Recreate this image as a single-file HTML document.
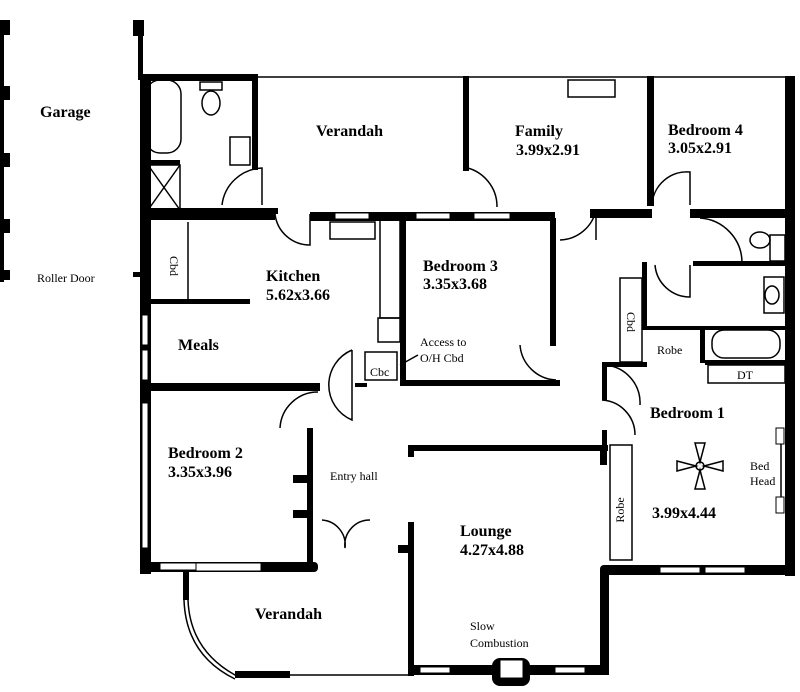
<!DOCTYPE html>
<html><head><meta charset="utf-8"><style>
html,body{margin:0;padding:0;background:#fff;}
svg{display:block}
.t{font-family:"Liberation Serif",serif;font-weight:bold;font-size:16px;fill:#000}
.s{font-family:"Liberation Serif",serif;font-size:12px;fill:#000}
</style></head><body>
<svg width="800" height="692" viewBox="0 0 800 692" xmlns="http://www.w3.org/2000/svg">
<g fill="#000" stroke="none">
<rect x="0" y="20" width="4" height="262"/>
<rect x="0" y="20" width="10" height="15"/><rect x="0" y="86" width="10" height="14"/>
<rect x="0" y="153" width="10" height="14"/><rect x="0" y="219" width="10" height="14"/><rect x="0" y="270" width="10" height="10"/>
<rect x="133" y="20" width="11" height="16"/><rect x="138" y="20" width="5" height="60"/>
<rect x="133" y="272" width="10" height="5"/>
<rect x="140" y="74" width="118" height="7"/>
<rect x="140" y="74" width="11" height="500"/>
<rect x="252" y="74" width="6" height="96"/>
<rect x="463" y="76" width="6" height="95"/>
<rect x="647" y="76" width="7" height="130"/>
<rect x="785" y="76" width="10" height="500"/>
<rect x="140" y="208" width="135" height="12"/>
<rect x="270" y="208" width="8" height="6"/>
<rect x="310" y="212" width="245" height="9"/>
<rect x="590" y="209" width="62" height="9"/>
<rect x="690" y="209" width="105" height="9"/>
<rect x="145" y="160" width="35" height="5"/>
<rect x="400" y="218" width="6" height="168"/>
<rect x="550" y="218" width="6" height="128"/>
<rect x="400" y="380" width="160" height="6"/>
<rect x="148" y="299" width="102" height="5"/>
<rect x="140" y="383" width="180" height="8"/>
<rect x="355" y="383" width="12" height="4"/>
<rect x="307" y="428" width="6" height="140"/>
<rect x="293" y="475" width="14" height="8"/><rect x="293" y="510" width="14" height="8"/>
<rect x="140" y="562" width="178" height="10" rx="4"/>
<rect x="183" y="570" width="6" height="30"/>
<rect x="408" y="445" width="200" height="6"/>
<rect x="408" y="445" width="6" height="12"/>
<rect x="408" y="522" width="6" height="154"/>
<rect x="398" y="545" width="14" height="8"/>
<rect x="408" y="665" width="200" height="10" rx="4"/>
<rect x="600" y="445" width="7" height="20"/>
<rect x="600" y="570" width="9" height="105"/>
<rect x="492" y="658" width="38" height="28" rx="8"/>
<rect x="642" y="262" width="5" height="68"/>
<rect x="693" y="261" width="95" height="5"/>
<rect x="645" y="326" width="140" height="4"/>
<rect x="602" y="362" width="45" height="5"/>
<rect x="602" y="362" width="5" height="38"/>
<rect x="602" y="430" width="5" height="20"/>
<rect x="705" y="360" width="80" height="5"/>
<rect x="700" y="328" width="5" height="35"/>
<rect x="600" y="565" width="195" height="10" rx="4"/>
<rect x="235" y="671" width="55" height="7"/>
</g>
<g fill="#fff" stroke="#000" stroke-width="1">
<rect x="160" y="563" width="40" height="7"/>
<rect x="196" y="563" width="65" height="8"/>
<rect x="142" y="403" width="6" height="145"/>
<rect x="142" y="315" width="6" height="30"/>
<rect x="142" y="350" width="6" height="30"/>
<rect x="335" y="213" width="34" height="6"/>
<rect x="416" y="213" width="34" height="6"/>
<rect x="474" y="213" width="36" height="6"/>
<rect x="660" y="567" width="40" height="6"/><rect x="705" y="567" width="40" height="6"/>
<rect x="420" y="667" width="30" height="6"/><rect x="555" y="667" width="30" height="6"/>
<rect x="500" y="660" width="23" height="18"/>
<rect x="776" y="428" width="8" height="16"/><rect x="776" y="497" width="8" height="16"/>
</g>
<g fill="none" stroke="#000" stroke-width="1.5">
<line x1="258" y1="77" x2="795" y2="77"/>
<line x1="781" y1="444" x2="781" y2="497"/>
<rect x="146" y="80" width="35" height="73" rx="14"/>
<rect x="148" y="165" width="32" height="45"/>
<line x1="148" y1="165" x2="180" y2="210"/><line x1="180" y1="165" x2="148" y2="210"/>
<rect x="200" y="82" width="22" height="8"/><ellipse cx="211" cy="103" rx="9" ry="12"/>
<rect x="230" y="137" width="20" height="28"/>
<line x1="188" y1="222" x2="188" y2="299"/>
<rect x="330" y="222" width="45" height="17"/>
<rect x="568" y="80" width="47" height="17"/>
<rect x="380" y="218" width="20" height="100"/>
<rect x="378" y="318" width="22" height="24"/>
<rect x="365" y="352" width="32" height="28"/>
<line x1="418" y1="355" x2="400" y2="365"/>
<path d="M222 205 A42 42 0 0 1 262 168 L262 205"/>
<path d="M275 214 A35 35 0 0 0 310 245 L310 214"/>
<path d="M463 167 A40 40 0 0 1 497 207"/>
<path d="M560 240 A38 38 0 0 0 596 210 L596 240"/>
<path d="M652 205 A35 35 0 0 1 690 172 L690 205"/>
<path d="M700 218 A45 45 0 0 1 742 262 L700 262"/>
<path d="M655 265 A35 35 0 0 0 690 297 L690 265"/>
<path d="M520 345 A38 38 0 0 0 556 380"/>
<path d="M352 350 A38 38 0 0 0 352 420 L352 350"/>
<path d="M280 428 A38 38 0 0 1 318 392"/>
<path d="M605 365 A38 38 0 0 1 640 405"/>
<path d="M602 400 A35 35 0 0 1 635 435"/>
<path d="M322 520 A25 25 0 0 1 345 548 A25 25 0 0 1 370 520"/>
<path d="M188 600 Q190 650 235 675 L410 675"/>
<path d="M184 600 Q186 655 235 679"/>
<rect x="770" y="235" width="15" height="26"/><ellipse cx="760" cy="240" rx="10" ry="8"/>
<rect x="764" y="277" width="20" height="36"/><ellipse cx="772" cy="295" rx="7" ry="9"/>
<rect x="712" y="330" width="68" height="28" rx="12"/>
<rect x="708" y="365" width="77" height="18"/>
<rect x="620" y="278" width="22" height="84"/>
<rect x="610" y="445" width="22" height="115"/>
<circle cx="700" cy="466" r="4"/>
<path d="M696 466 L677 461 L677 471 Z M704 466 L723 461 L723 471 Z M700 462 L695 443 L705 443 Z M700 470 L695 489 L705 489 Z"/>
</g>
<text class="t" x="40" y="117">Garage</text>
<text class="s" x="37" y="282">Roller Door</text>
<text class="t" x="316" y="136">Verandah</text>
<text class="t" x="515" y="136">Family</text>
<text class="t" x="516" y="155">3.99x2.91</text>
<text class="t" x="668" y="135">Bedroom  4</text>
<text class="t" x="668" y="153">3.05x2.91</text>
<text class="t" x="266" y="281">Kitchen</text>
<text class="t" x="266" y="300">5.62x3.66</text>
<text class="t" x="423" y="271">Bedroom  3</text>
<text class="t" x="423" y="289">3.35x3.68</text>
<text class="t" x="178" y="350">Meals</text>
<text class="s" x="420" y="346">Access to</text>
<text class="s" x="420" y="362">O/H Cbd</text>
<text class="s" x="370" y="376">Cbc</text>
<text class="s" transform="translate(170,266) rotate(90)" text-anchor="middle">Cbd</text>
<text class="s" transform="translate(627,322) rotate(90)" text-anchor="middle">Cbd</text>
<text class="s" x="657" y="354">Robe</text>
<text class="s" x="737" y="379">DT</text>
<text class="t" x="650" y="418">Bedroom  1</text>
<text class="s" x="750" y="470">Bed</text>
<text class="s" x="750" y="485">Head</text>
<text class="t" x="652" y="518">3.99x4.44</text>
<text class="s" transform="translate(624,510) rotate(-90)" text-anchor="middle">Robe</text>
<text class="t" x="168" y="458">Bedroom  2</text>
<text class="t" x="168" y="477">3.35x3.96</text>
<text class="s" x="330" y="480">Entry hall</text>
<text class="t" x="460" y="536">Lounge</text>
<text class="t" x="460" y="555">4.27x4.88</text>
<text class="t" x="255" y="619">Verandah</text>
<text class="s" x="470" y="630">Slow</text>
<text class="s" x="470" y="647">Combustion</text>
</svg>
</body></html>
